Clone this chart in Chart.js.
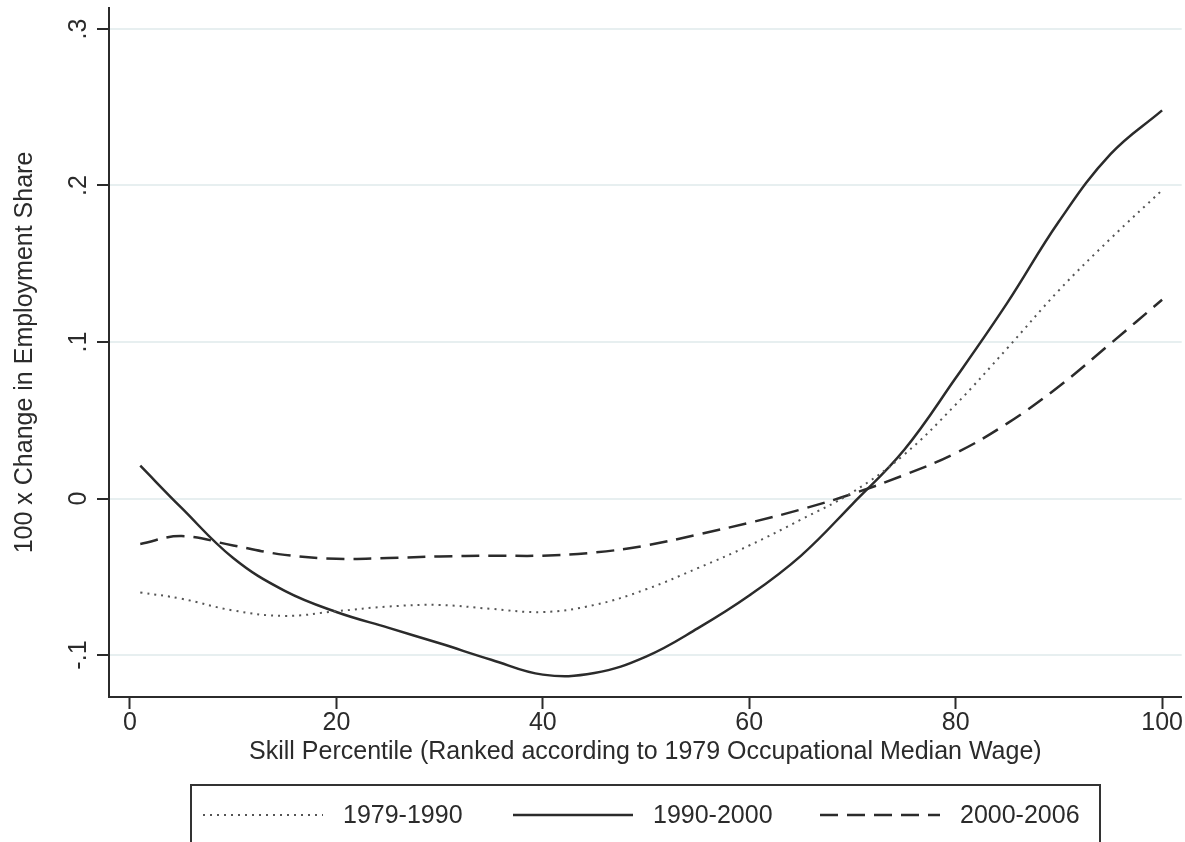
<!DOCTYPE html>
<html>
<head>
<meta charset="utf-8">
<title>Employment share change by skill percentile</title>
<script src="https://cdn.jsdelivr.net/npm/chart.js@4/dist/chart.umd.min.js"></script>
<style>
    html, body { margin: 0; padding: 0; background: #fff; }
    #wrap { width: 1185px; height: 842px; }
</style>
</head>
<body>
<div id="wrap"><canvas id="shareChart" width="1185" height="842"></canvas></div>
<script>
// skill percentile positions of the smoothed estimates
const percentiles = [1, 5, 10, 15, 20, 25, 30, 35, 40, 45, 50, 55, 60, 65, 70, 75, 80, 85, 90, 95, 100];

const change1979to1990 = [-0.060, -0.064, -0.0715, -0.075, -0.072, -0.069, -0.068, -0.0705, -0.0725, -0.068, -0.058,
    -0.0445, -0.030, -0.0135, 0.004, 0.028, 0.060, 0.096, 0.133, 0.166, 0.197];
const change1990to2000 = [0.021, -0.006, -0.038, -0.059, -0.0725, -0.0825, -0.0925, -0.103, -0.1125, -0.1115, -0.101,
    -0.083, -0.062, -0.0366, -0.0035, 0.031, 0.077, 0.125, 0.177, 0.220, 0.248];
const change2000to2006 = [-0.029, -0.024, -0.030, -0.036, -0.0385, -0.038, -0.037, -0.0365, -0.0365, -0.0345, -0.030,
    -0.023, -0.0155, -0.007, 0.003, 0.015, 0.029, 0.048, 0.0716, 0.099, 0.127];

const seriesLabels = ['1979-1990', '1990-2000', '2000-2006'];
const xTicks = [0, 20, 40, 60, 80, 100];
const yTicks = [-0.1, 0, 0.1, 0.2, 0.3];
const yTickLabels = ['-.1', '0', '.1', '.2', '.3'];

const FONT = '"Liberation Sans", Arial, sans-serif';
const INK = '#2b2b2b';

function toPoints(values) {
    return percentiles.map((p, i) => ({ x: p, y: values[i] }));
}

// y tick labels are drawn turned on their side, reading upwards
const rotatedYTicks = {
    id: 'rotatedYTicks',
    afterDraw(chart) {
        const ctx = chart.ctx;
        const y = chart.scales.y;
        ctx.save();
        ctx.font = '25px ' + FONT;
        ctx.fillStyle = INK;
        ctx.textAlign = 'center';
        ctx.textBaseline = 'alphabetic';
        yTicks.forEach((v, i) => {
            ctx.save();
            ctx.translate(86, y.getPixelForValue(v));
            ctx.rotate(-Math.PI / 2);
            ctx.fillText(yTickLabels[i], 0, 0);
            ctx.restore();
        });
        ctx.restore();
    }
};

// boxed legend along the bottom edge
const boxedLegend = {
    id: 'boxedLegend',
    afterDraw(chart) {
        const ctx = chart.ctx;
        const rowY = 815;
        const items = [
            { x: 203, dash: [2, 5], color: '#555', width: 2 },
            { x: 513, dash: [], color: INK, width: 2.5 },
            { x: 820, dash: [18, 9], color: INK, width: 2.5 }
        ];
        ctx.save();
        ctx.strokeStyle = '#333';
        ctx.lineWidth = 2;
        ctx.strokeRect(191, 785, 909, 70);

        ctx.font = '25px ' + FONT;
        ctx.fillStyle = INK;
        ctx.textAlign = 'left';
        ctx.textBaseline = 'middle';
        items.forEach((it, i) => {
            ctx.beginPath();
            ctx.setLineDash(it.dash);
            ctx.strokeStyle = it.color;
            ctx.lineWidth = it.width;
            ctx.moveTo(it.x, rowY);
            ctx.lineTo(it.x + 120, rowY);
            ctx.stroke();
            ctx.setLineDash([]);
            ctx.fillText(seriesLabels[i], it.x + 140, rowY + 1);
        });
        ctx.restore();
    }
};

const ctx = document.getElementById('shareChart').getContext('2d');
new Chart(ctx, {
    type: 'line',
    data: {
        datasets: [
            {
                label: seriesLabels[0],
                data: toPoints(change1979to1990),
                borderColor: '#555',
                borderWidth: 2,
                borderDash: [2, 5],
                pointRadius: 0,
                tension: 0.4,
                fill: false
            },
            {
                label: seriesLabels[1],
                data: toPoints(change1990to2000),
                borderColor: INK,
                borderWidth: 2.5,
                pointRadius: 0,
                tension: 0.4,
                fill: false
            },
            {
                label: seriesLabels[2],
                data: toPoints(change2000to2006),
                borderColor: INK,
                borderWidth: 2.5,
                borderDash: [18, 9],
                pointRadius: 0,
                tension: 0.4,
                fill: false
            }
        ]
    },
    options: {
        responsive: false,
        animation: false,
        events: [],
        layout: { padding: { top: 8, right: 3, bottom: 70, left: 0 } },
        plugins: {
            legend: { display: false },
            tooltip: { enabled: false }
        },
        scales: {
            x: {
                type: 'linear',
                min: -2.03,
                max: 101.9,
                afterBuildTicks: (scale) => { scale.ticks = xTicks.map(v => ({ value: v })); },
                afterFit: (scale) => { scale.height = 75; },
                grid: { drawOnChartArea: false, drawTicks: true, tickLength: 12, tickColor: INK, tickWidth: 2 },
                border: { display: true, color: INK, width: 2 },
                ticks: {
                    color: INK,
                    font: { family: FONT, size: 25, lineHeight: 1 },
                    padding: 2,
                    maxRotation: 0,
                    autoSkip: false
                },
                title: {
                    display: true,
                    text: 'Skill Percentile (Ranked according to 1979 Occupational Median Wage)',
                    color: INK,
                    font: { family: FONT, size: 25, lineHeight: 1.2 },
                    padding: { top: 0, bottom: 5 }
                }
            },
            y: {
                min: -0.1268,
                max: 0.3134,
                afterBuildTicks: (scale) => { scale.ticks = yTicks.map(v => ({ value: v })); },
                afterFit: (scale) => { scale.width = 109; },
                grid: { color: '#e7eff0', lineWidth: 2, drawTicks: true, tickLength: 12, tickColor: INK, tickWidth: 2 },
                border: { display: true, color: INK, width: 2 },
                ticks: { display: false },
                title: {
                    display: true,
                    text: '100 x Change in Employment Share',
                    color: INK,
                    font: { family: FONT, size: 25, lineHeight: 1.2 },
                    padding: { top: 10, bottom: 0 }
                }
            }
        }
    },
    plugins: [rotatedYTicks, boxedLegend]
});
</script>
</body>
</html>
